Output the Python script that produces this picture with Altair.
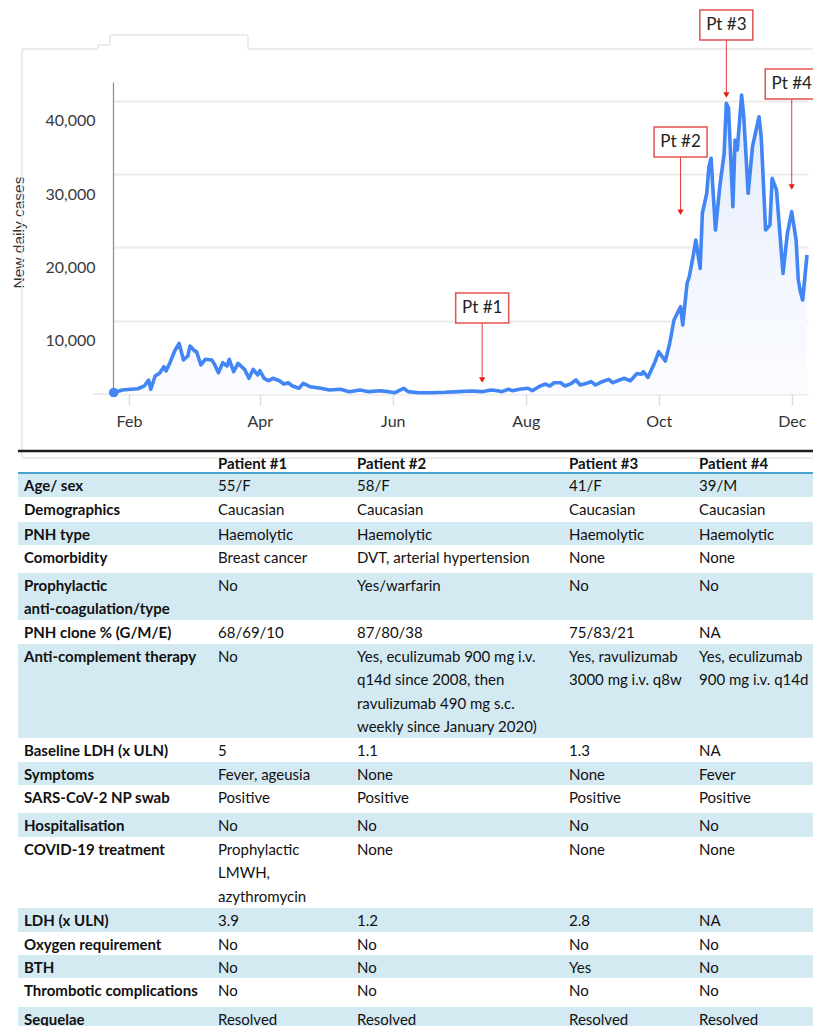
import altair as alt
import pandas as pd

# ---------------- chart data ----------------
case_dates = [
    "2020-01-25", "2020-01-29", "2020-02-02", "2020-02-05", "2020-02-08", "2020-02-10",
    "2020-02-11", "2020-02-13", "2020-02-15", "2020-02-17", "2020-02-18", "2020-02-20",
    "2020-02-22", "2020-02-24", "2020-02-26", "2020-02-28", "2020-02-29", "2020-03-02",
    "2020-03-03", "2020-03-05", "2020-03-07", "2020-03-10", "2020-03-11", "2020-03-13",
    "2020-03-15", "2020-03-17", "2020-03-18", "2020-03-20", "2020-03-22", "2020-03-24",
    "2020-03-25", "2020-03-27", "2020-03-29", "2020-03-31", "2020-04-01", "2020-04-03",
    "2020-04-05", "2020-04-07", "2020-04-10", "2020-04-12", "2020-04-14", "2020-04-16",
    "2020-04-19", "2020-04-21", "2020-04-24", "2020-04-29", "2020-05-03", "2020-05-08",
    "2020-05-12", "2020-05-17", "2020-05-21", "2020-05-26", "2020-05-30", "2020-06-02",
    "2020-06-06", "2020-06-08", "2020-06-13", "2020-06-19", "2020-06-25", "2020-07-01",
    "2020-07-07", "2020-07-12", "2020-07-16", "2020-07-19", "2020-07-21", "2020-07-24",
    "2020-07-26", "2020-07-29", "2020-08-02", "2020-08-04", "2020-08-07", "2020-08-10",
    "2020-08-12", "2020-08-14", "2020-08-17", "2020-08-19", "2020-08-22", "2020-08-24",
    "2020-08-26", "2020-08-29", "2020-08-31", "2020-09-02", "2020-09-05", "2020-09-08",
    "2020-09-10", "2020-09-13", "2020-09-15", "2020-09-18", "2020-09-21", "2020-09-23",
    "2020-09-24", "2020-09-26", "2020-09-29", "2020-10-01", "2020-10-04", "2020-10-06",
    "2020-10-08", "2020-10-11", "2020-10-12", "2020-10-14", "2020-10-15", "2020-10-17",
    "2020-10-18", "2020-10-20", "2020-10-21", "2020-10-23", "2020-10-24", "2020-10-25",
    "2020-10-27", "2020-10-29", "2020-10-31", "2020-11-01", "2020-11-02", "2020-11-04",
    "2020-11-05", "2020-11-06", "2020-11-08", "2020-11-09", "2020-11-11", "2020-11-13",
    "2020-11-16", "2020-11-17", "2020-11-19", "2020-11-21", "2020-11-22", "2020-11-24",
    "2020-11-27", "2020-11-29", "2020-12-01", "2020-12-03", "2020-12-04", "2020-12-05",
    "2020-12-06", "2020-12-08",
]
case_values = [
    200, 550, 640, 720, 1090, 1900,
    640, 2450, 2820, 3730, 3140, 4410,
    5900, 6910, 4640, 5180, 6550, 5900,
    5770, 3960, 4730, 4640, 4180, 2910,
    4270, 3820, 4730, 3040, 4180, 3640,
    3370, 2140, 3370, 2590, 3180, 2140,
    1810, 2140, 1810, 1360, 1540, 1090,
    780, 1460, 1000, 780, 550, 640,
    320, 550, 320, 450, 320, 180,
    780, 320, 180, 180, 230, 320,
    410, 320, 550, 450, 320, 640,
    450, 640, 780, 450, 1000, 1360,
    1090, 1540, 1540, 1090, 1460, 1910,
    1230, 1460, 1680, 1230, 1680, 2000,
    1540, 1910, 2140, 1810, 2800, 2700,
    3040, 2250, 4180, 5770, 4500, 6910,
    10090, 11910, 9410, 15100, 16000, 19190,
    21000, 17140, 24650, 27380, 31000, 32150,
    22370, 28280, 32830, 39650, 39000, 25550,
    34650, 33280, 40780, 37820, 27380, 33730,
    37820, 35100, 22370, 23050, 29420, 27830,
    16460, 21920, 24870, 21000, 15550, 13950,
    12820, 18960,
]

pt_labels = ["Pt #1", "Pt #2", "Pt #3", "Pt #4"]
pt_dates = ["2020-07-12", "2020-10-11", "2020-11-01", "2020-12-01"]
pt_box_center = [11730, 34370, 50330, 42280]
pt_box_bottom = [9680, 32330, 48290, 40240]
pt_arrow_tip = [1910, 24800, 40780, 28230]

y_tick_values = [0, 10000, 20000, 30000, 40000]
x_tick_months = [2, 4, 6, 8, 10, 12]

# ---------------- table data ----------------
table_headers = ["Patient #1", "Patient #2", "Patient #3", "Patient #4"]
row_labels = [
    "Age/ sex", "Demographics", "PNH type", "Comorbidity",
    "Prophylactic\nanti-coagulation/type", "PNH clone % (G/M/E)",
    "Anti-complement therapy", "Baseline LDH (x ULN)", "Symptoms",
    "SARS-CoV-2 NP swab", "Hospitalisation", "COVID-19 treatment",
    "LDH (x ULN)", "Oxygen requirement", "BTH", "Thrombotic complications",
    "Sequelae",
]
patient1 = ["55/F", "Caucasian", "Haemolytic", "Breast cancer", "No", "68/69/10", "No",
            "5", "Fever, ageusia", "Positive", "No", "Prophylactic\nLMWH,\nazythromycin",
            "3.9", "No", "No", "No", "Resolved"]
patient2 = ["58/F", "Caucasian", "Haemolytic", "DVT, arterial hypertension", "Yes/warfarin",
            "87/80/38",
            "Yes, eculizumab 900 mg i.v.\nq14d since 2008, then\nravulizumab 490 mg s.c.\nweekly since January 2020)",
            "1.1", "None", "Positive", "No", "None", "1.2", "No", "No", "No", "Resolved"]
patient3 = ["41/F", "Caucasian", "Haemolytic", "None", "No", "75/83/21",
            "Yes, ravulizumab\n3000 mg i.v. q8w", "1.3", "None", "Positive", "No", "None",
            "2.8", "No", "Yes", "No", "Resolved"]
patient4 = ["39/M", "Caucasian", "Haemolytic", "None", "No", "NA",
            "Yes, eculizumab\n900 mg i.v. q14d", "NA", "Fever", "Positive", "No", "None",
            "NA", "No", "No", "No", "Resolved"]

# ---------------- frames ----------------
cases = pd.DataFrame({"date": case_dates, "cases": case_values})
start = cases.iloc[[0]]
pts = pd.DataFrame({"date": pt_dates, "label": pt_labels, "box": pt_box_center,
                    "bottom": pt_box_bottom, "tip": pt_arrow_tip})

cells = []
for c, h in enumerate(table_headers, start=1):
    cells.append({"row": 0, "col": c, "text": h, "bold": True})
for i, lab in enumerate(row_labels):
    r = i + 1
    cells.append({"row": r, "col": 0, "text": lab, "bold": True})
    for c, p in enumerate([patient1, patient2, patient3, patient4], start=1):
        cells.append({"row": r, "col": c, "text": p[i], "bold": False})
cells = pd.DataFrame(cells)
n_rows = len(row_labels) + 1
bands = pd.DataFrame({"row": [r for r in range(1, n_rows) if r % 2 == 1]})
bands["row_next"] = bands["row"] + 1

FONT = "Lato"
LINE_BLUE = "#4285f4"
RED = "#e53935"

# ---------------- top chart ----------------
x_scale = alt.Scale(type="utc", domain=[
    alt.DateTime(year=2020, month=1, date=24, hours=16, utc=True),
    alt.DateTime(year=2020, month=12, date=8, hours=11, utc=True)])
x_axis = alt.Axis(values=[alt.DateTime(year=2020, month=m, date=1, utc=True) for m in x_tick_months],
                  format="%b", title=None, domain=False, grid=False, ticks=True,
                  tickColor="#dcdcdc", tickWidth=1.5, tickSize=11, labelPadding=8,
                  labelFont=FONT, labelFontSize=16, labelColor="#333", labelFlush=False)
y_scale = alt.Scale(domain=[0, 42560], nice=False)
y_axis = alt.Axis(values=y_tick_values,
                  labelExpr="datum.value == 0 ? '' : format(datum.value, ',')",
                  grid=True, gridColor="#ececec", gridWidth=2, ticks=False,
                  domain=True, domainColor="#8a8a8a", domainWidth=1.2,
                  labelFont=FONT, labelFontSize=16, labelColor="#3a3a3a",
                  labelPadding=18, labelOffset=20,
                  title="New daily cases", titleFont="Liberation Sans", titleFontSize=15.5,
                  titleFontWeight="normal", titleColor="#333", titleX=-95, titleY=150,
                  titleAngle=270, titleAlign="center", titleBaseline="middle")


def X(field="date"):
    return alt.X(f"{field}:T", scale=x_scale, axis=x_axis)


def Y(field):
    return alt.Y(f"{field}:Q", scale=y_scale, axis=y_axis)


area = alt.Chart(cases).mark_area(
    opacity=1,
    color=alt.Gradient(gradient="linear",
                       stops=[alt.GradientStop(color="#e4ecfb", offset=0),
                              alt.GradientStop(color="#fbfcff", offset=1)],
                       x1=1, x2=1, y1=0, y2=1)
).encode(x=X(), y=Y("cases"))
line = alt.Chart(cases).mark_line(color=LINE_BLUE, strokeWidth=3.6, strokeJoin="round"
                                  ).encode(x=X(), y=Y("cases"))
dot = alt.Chart(start).mark_circle(size=90, color=LINE_BLUE, opacity=1
                                   ).encode(x=X(), y=Y("cases"))
arrow = alt.Chart(pts).mark_rule(color=RED, strokeWidth=1
                                 ).encode(x=X(), y=Y("bottom"), y2="tip:Q")
head = alt.Chart(pts).mark_point(shape="triangle-down", filled=True, size=40, color="#e0201a",
                                 opacity=1).encode(x=X(), y=Y("tip"))
box = alt.Chart(pts).mark_rect(width=53, height=30, fill="white", stroke="#e0524e",
                               strokeWidth=1.5).encode(x=X(), y=Y("box"))
box_text = alt.Chart(pts).mark_text(font=FONT, fontSize=17, color="#222", align="center",
                                    baseline="middle").encode(x=X(), y=Y("box"), text="label:N")

top = alt.layer(area, line, dot, arrow, head, box, box_text)

# ---------------- table ----------------
col_x = [-89, 105, 244, 456, 586]
row_edges = [369, 391, 415, 440, 463, 491, 538, 562, 656, 680, 703, 731, 755, 826, 850, 873,
             896, 925, 949]
tx = alt.X("col:Q", scale=alt.Scale(domain=list(range(len(col_x))), range=col_x,
                                    nice=False, zero=False), axis=None)
ty = alt.Y("row:Q", scale=alt.Scale(domain=list(range(len(row_edges))), range=row_edges,
                                    nice=False, zero=False), axis=None)

band_layer = alt.Chart(bands).mark_rect(color="#d4eaf3").encode(
    x=alt.value(-95), x2=alt.value(700), y=ty, y2="row_next:Q")
black_line = alt.Chart(pd.DataFrame({"row": [0]})).mark_rule(
    color="#1c1c1c", strokeWidth=2.5).encode(x=alt.value(-95), x2=alt.value(700), y=ty)
blue_line = alt.Chart(pd.DataFrame({"row": [1]})).mark_rule(
    color="#4aa3cf", strokeWidth=2).encode(x=alt.value(-95), x2=alt.value(700), y=ty)
text_common = dict(font=FONT, fontSize=15, color="#111", align="left",
                   baseline="alphabetic", dy=18, lineBreak="\n", lineHeight=23.3)
bold_text = alt.Chart(cells).transform_filter("datum.bold").mark_text(
    fontWeight="bold", **text_common).encode(x=tx, y=ty, text="text:N")
reg_text = alt.Chart(cells).transform_filter("!datum.bold").mark_text(
    **text_common).encode(x=tx, y=ty, text="text:N")

table = alt.layer(band_layer, black_line, blue_line, bold_text, reg_text)

# ---------------- faint frame of the pasted screenshot ----------------
frame_segments = [
    dict(x=-91, x2=-91, y=-33, y2=376),
    dict(x=-91, x2=700, y=376, y2=376),
    dict(x=-91, x2=-15, y=-33, y2=-33),
    dict(x=-15, x2=-3, y=-37, y2=-37),
    dict(x=-15, x2=-15, y=-37, y2=-33),
    dict(x=-3, x2=-3, y=-47, y2=-37),
    dict(x=-3, x2=135, y=-47, y2=-47),
    dict(x=135, x2=135, y=-47, y2=-33),
    dict(x=135, x2=700, y=-33, y2=-33),
]
frame = [
    alt.Chart(pd.DataFrame({"a": [0]})).mark_rule(color="#e6e6e6", strokeWidth=1.5).encode(
        x=alt.value(s["x"]), x2=alt.value(s["x2"]), y=alt.value(s["y"]), y2=alt.value(s["y2"]))
    for s in frame_segments
]
baseline_ext = alt.Chart(pd.DataFrame({"a": [0]})).mark_rule(
    color="#ececec", strokeWidth=2).encode(
    x=alt.value(-20), x2=alt.value(0), y=alt.value(312), y2=alt.value(312))

chart = alt.layer(*frame, baseline_ext, table, top).resolve_scale(
    x="independent", y="independent"
).properties(
    width=695, height=312,
    padding={"left": 105, "top": 74, "right": 5, "bottom": 632},
    autosize=alt.AutoSizeParams(type="none"),
    background="white",
).configure_view(stroke=None)

chart.save("out.html", embed_options={"renderer": "svg", "actions": False})
